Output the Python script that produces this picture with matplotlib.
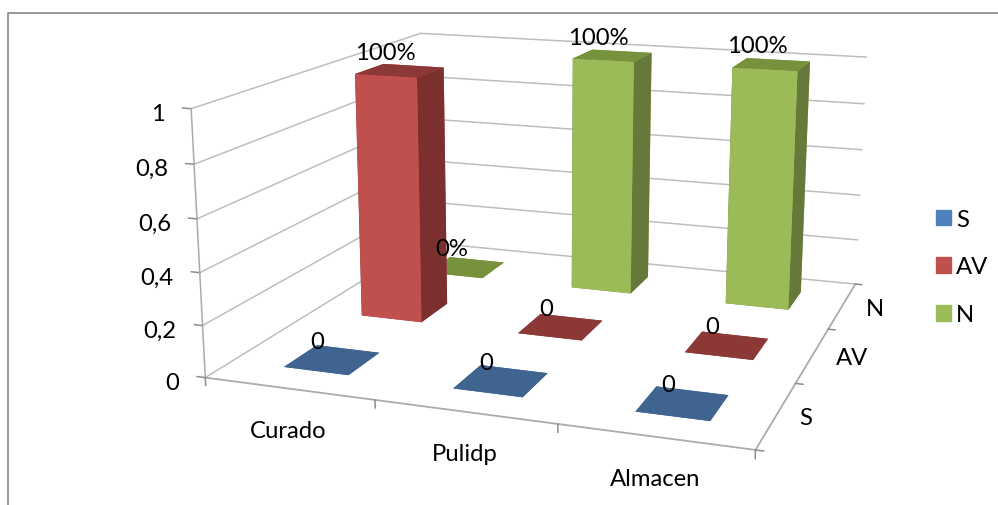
import matplotlib
matplotlib.use('Agg')
import matplotlib.pyplot as plt
from matplotlib.lines import Line2D
from matplotlib.patches import Patch
from mpl_toolkits.mplot3d import proj3d

plt.rcParams['font.family'] = ['Lato', 'DejaVu Sans']

## Data
categories = ['Curado', 'Pulidp', 'Almacen']
series = ['S', 'AV', 'N']
s_values = [0, 0, 0]
av_values = [1, 0, 0]
n_values = [0, 1, 1]
s_labels = ['0', '0', '0']
av_labels = ['100%', '0', '0']
n_labels = ['0%', '100%', '100%']
z_ticks = [0, 0.2, 0.4, 0.6, 0.8, 1]
z_ticklabels = ['0', '0,2', '0,4', '0,6', '0,8', '1']

## Styles
front_colors = ['#4F81BD', '#C0504D', '#9BBB59']
top_colors = ['#3F6490', '#8C3836', '#76923C']
side_colors = ['#35557B', '#7B302F', '#66783A']
grid_color = '#BEBEBE'
axis_color = '#ABABAB'
tick_color = '#8C8C8C'
text_size = 17.2
bar_w = 0.39
bar_d = 0.4
bar_shift = 0.01

W, H = 998, 506
S = 745.5
cx, cy = 559.4, 206.9
f = plt.figure(figsize=(W / 100, H / 100), dpi=100)

# Square 3d axes, placed so the camera centre lands on (cx, cy)
left = cx - S * 0.95 / 1.85
bottom = (H - cy) - S * 0.95 / 1.85
ax = f.add_axes([left / W, bottom / H, S / W, S / H], projection='3d')
ax.set_axis_off()
ax.computed_zorder = False
ax.set_proj_type('persp', focal_length=0.4095)
ax.view_init(elev=14.07, azim=-70.87, roll=-0.15)
ax.set_box_aspect((2.05, 1.99, 1))

n_cat, n_ser = len(categories), len(series)
ax.set_xlim(0, n_cat, view_margin=0)
ax.set_ylim(0, n_ser, view_margin=0)
ax.set_zlim(0, 1, view_margin=0)


def put_text(x, y, z, label, dx, dy, ha='center', va='center'):
    # text anchored on a 3d point, shifted by (dx, dy) pixels
    x2, y2, _ = proj3d.proj_transform(x, y, z, ax.get_proj())
    ax.annotate(label, (x2, y2), xytext=(dx * 0.72, dy * 0.72),
                textcoords='offset points', ha=ha, va=va,
                fontsize=text_size, zorder=50)


## Walls and floor lines
for z in z_ticks:
    ax.plot([0, 0], [0, n_ser], [z, z], color=grid_color, lw=1.1, zorder=1)
    ax.plot([0, n_cat], [n_ser, n_ser], [z, z], color=grid_color, lw=1.1, zorder=1)
    ax.plot([-0.05, 0], [0, 0], [z, z], color=tick_color, lw=1.1, zorder=2)
ax.plot([0, 0], [0, 0], [0, 1], color=axis_color, lw=1.1, zorder=2)
ax.plot([0, n_cat], [0, 0], [0, 0], color=axis_color, lw=1.3, zorder=2)
ax.plot([n_cat, n_cat], [0, n_ser], [0, 0], color=axis_color, lw=1.3, zorder=2)

## Ticks
for i in range(n_cat + 1):
    ax.plot([i, i], [0, 0], [0, -0.03], color=tick_color, lw=1.1, zorder=2)
for j in range(n_ser + 1):
    ax.plot([n_cat, n_cat + 0.04], [j, j], [0, 0], color=tick_color, lw=1.1, zorder=2)

## Bars, back row first
all_values = [s_values, av_values, n_values]
all_labels = [s_labels, av_labels, n_labels]
order = 10
for j in reversed(range(n_ser)):
    for i in range(n_cat):
        # face order in bar3d: bottom, top, -y, +y, -x, +x
        colors = [top_colors[j], top_colors[j], front_colors[j],
                  front_colors[j], side_colors[j], side_colors[j]]
        ax.bar3d(i + 0.5 + bar_shift - bar_w / 2, j + 0.5 - bar_d / 2, 0,
                 bar_w, bar_d, all_values[j][i],
                 color=colors, shade=False, edgecolor='none', zorder=order)
        order += 1

## Data labels
for j in range(n_ser):
    for i in range(n_cat):
        put_text(i + 0.5, j + 0.5, all_values[j][i], all_labels[j][i], -13, 18.5)

## Tick labels
for i, lab in enumerate(categories):
    put_text(i + 0.5, 0, 0, lab, 0, -42)
for j, lab in enumerate(series):
    put_text(n_cat, j + 0.5, 0, lab, 23, -3, ha='left')
for z, lab in zip(z_ticks, z_ticklabels):
    put_text(0, 0, z, lab, -26, -4.5, ha='right')

## Legend
handles = [Patch(color=c) for c in front_colors]
f.legend(handles, series, loc='center left', bbox_to_anchor=(936 / W, 1 - 268 / H),
         frameon=False, fontsize=text_size, handlelength=0.63, handleheight=0.63,
         handletextpad=0.2, labelspacing=1.12, borderpad=0, borderaxespad=0)

## Chart frame
f.add_artist(Line2D([8 / W, 8 / W, 1], [0, 1 - 14 / H, 1 - 14 / H],
                    color='#868686', lw=1.2))

f.savefig('out.png', dpi=100)
